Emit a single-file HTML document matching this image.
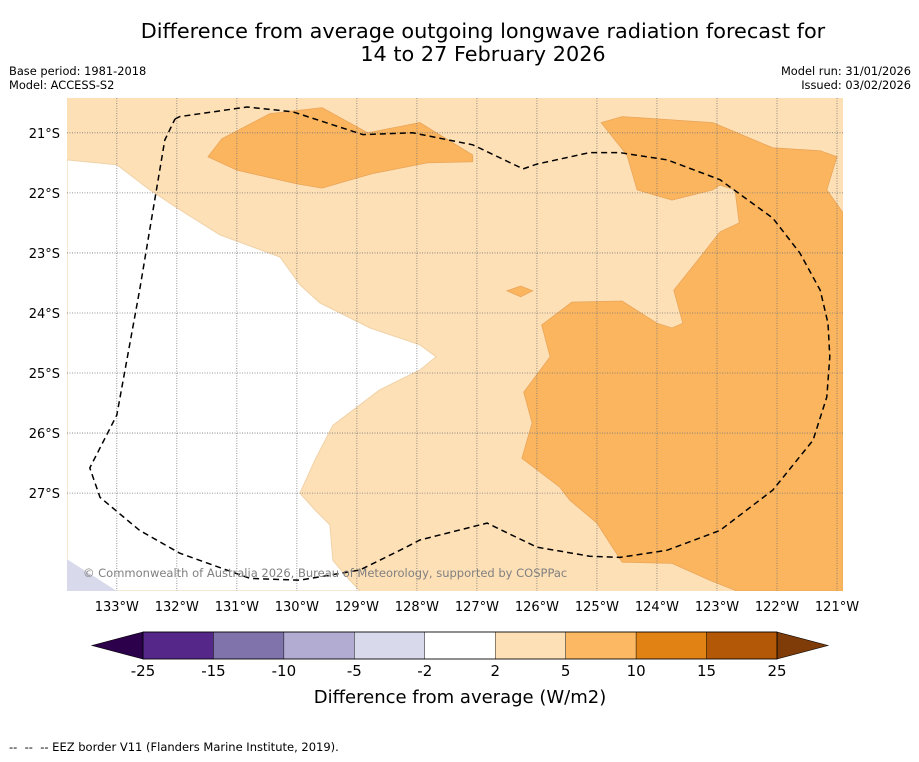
<!DOCTYPE html>
<html><head><meta charset="utf-8">
<style>
html,body{margin:0;padding:0;background:#fff;}
body{width:919px;height:758px;position:relative;font-family:"DejaVu Sans","Liberation Sans",sans-serif;overflow:hidden;}
</style></head>
<body>
<svg id="chart" width="919" height="758" xmlns="http://www.w3.org/2000/svg" font-family="DejaVu Sans, Liberation Sans, sans-serif">
<text x="483" y="38" text-anchor="middle" font-size="20.8">Difference from average outgoing longwave radiation forecast for</text>
<text x="483" y="61" text-anchor="middle" font-size="20.8">14 to 27 February 2026</text>
<text x="9" y="75" font-size="11.4">Base period: 1981-2018</text>
<text x="9" y="89" font-size="11.4">Model: ACCESS-S2</text>
<text x="911" y="75" font-size="11.4" text-anchor="end">Model run: 31/01/2026</text>
<text x="911" y="89" font-size="11.4" text-anchor="end">Issued: 03/02/2026</text>
<defs><clipPath id="mapclip"><rect x="67" y="98" width="776" height="493"/></clipPath></defs>
<g id="map" clip-path="url(#mapclip)"></g>
<g id="axes"></g>
<text x="83" y="577" font-size="11.5" fill="#808080">© Commonwealth of Australia 2026, Bureau of Meteorology, supported by COSPPac</text>
<g id="cbar"></g>
<text x="460" y="703" text-anchor="middle" font-size="18">Difference from average (W/m2)</text>
<text x="9" y="751" font-size="11.5" style="white-space:pre" xml:space="preserve">--  --  -- EEZ border V11 (Flanders Marine Institute, 2019).</text>
</svg>
<script>
const lonTicks=[-133,-132,-131,-130,-129,-128,-127,-126,-125,-124,-123,-122,-121];
const latTicks=[-21,-22,-23,-24,-25,-26,-27];
const lonRange=[-133.83,-120.9];
const latRange=[-20.42,-28.63];
const whiteRegion=[[-133.83,-21.45],[-133,-21.53],[-132.45,-21.95],[-131.95,-22.28],[-131.28,-22.7],[-130.28,-23.07],[-129.95,-23.53],[-129.62,-23.83],[-128.78,-24.25],[-127.95,-24.53],[-127.68,-24.73],[-127.95,-24.95],[-128.62,-25.28],[-129.4,-25.87],[-129.7,-26.45],[-129.95,-27.0],[-129.7,-27.28],[-129.45,-27.53],[-129.4,-28.12],[-129.12,-28.45],[-128.95,-28.63],[-133.83,-28.63]];
const lavenderRegion=[[-133.83,-28.1],[-133,-28.63],[-133.83,-28.63]];
const orangeNorth=[[-131.48,-21.4],[-131.25,-21.1],[-130.45,-20.68],[-129.58,-20.58],[-128.82,-21.0],[-127.95,-20.83],[-127.07,-21.37],[-127.07,-21.48],[-127.83,-21.5],[-128.75,-21.68],[-129.58,-21.92],[-130.0,-21.85],[-131.0,-21.62]];
const orangeEast=[[-124.93,-20.83],[-124.58,-20.73],[-123.07,-20.83],[-122.07,-21.25],[-121.28,-21.3],[-121.0,-21.4],[-121.17,-21.95],[-120.9,-22.33],[-120.9,-28.63],[-122.67,-28.63],[-123.12,-28.45],[-123.75,-28.17],[-124.58,-28.15],[-125.0,-27.5],[-125.45,-27.12],[-125.62,-26.9],[-126.25,-26.42],[-126.08,-25.83],[-126.22,-25.32],[-125.78,-24.73],[-125.92,-24.2],[-125.42,-23.82],[-124.58,-23.8],[-124.0,-24.17],[-123.75,-24.25],[-123.57,-24.17],[-123.72,-23.62],[-123.32,-23.12],[-122.95,-22.65],[-122.63,-22.5],[-122.7,-21.95],[-122.95,-21.87],[-123.07,-21.95],[-123.75,-22.12],[-124.33,-21.95],[-124.5,-21.37]];
const orangeDiamond=[[-126.5,-23.63],[-126.27,-23.55],[-126.07,-23.63],[-126.27,-23.73]];
const eezBorder=[[-132.03,-20.77],[-131.95,-20.73],[-130.83,-20.57],[-130.07,-20.65],[-128.9,-21.03],[-128.07,-21.0],[-127.07,-21.2],[-126.23,-21.6],[-126.0,-21.52],[-125.12,-21.33],[-124.62,-21.33],[-123.83,-21.45],[-122.95,-21.78],[-122.07,-22.42],[-121.62,-23.0],[-121.28,-23.62],[-121.15,-24.17],[-121.12,-24.73],[-121.17,-25.4],[-121.4,-26.12],[-122.07,-26.95],[-122.95,-27.62],[-123.83,-27.95],[-124.62,-28.07],[-125.12,-28.05],[-126.0,-27.9],[-126.83,-27.5],[-127.95,-27.78],[-128.28,-27.95],[-128.95,-28.28],[-129.95,-28.45],[-130.78,-28.42],[-131.95,-28.0],[-132.62,-27.62],[-133.28,-27.07],[-133.45,-26.58],[-133.0,-25.7],[-132.62,-23.62],[-132.2,-21.12],[-132.03,-20.77]];
const cbarLevels=["-25","-15","-10","-5","-2","2","5","10","15","25"];
const cbarColors=["#542788","#8073ac","#b2abd2","#d8daeb","#ffffff","#fee0b6","#fdb863","#e08214","#b35806"];
const cbarExtend=["#2d004b","#7f3b08"];

const NS="http://www.w3.org/2000/svg";
const X0=67,X1=843,Y0=98,Y1=591;
function xs(lon){return X0+(lon-lonRange[0])/(lonRange[1]-lonRange[0])*(X1-X0);}
function ys(lat){return Y0+(lat-latRange[0])/(latRange[1]-latRange[0])*(Y1-Y0);}
function mk(tag,attrs,parent){const e=document.createElementNS(NS,tag);for(const k in attrs)e.setAttribute(k,attrs[k]);parent.appendChild(e);return e;}
function pts(arr){return arr.map(p=>xs(p[0]).toFixed(1)+","+ys(p[1]).toFixed(1)).join(" ");}
const map=document.getElementById('map');
const bg=mk('rect',{x:X0,y:Y0,width:X1-X0,height:Y1-Y0,fill:'#fee0b6'},map);


const w=mk('polygon',{points:pts(whiteRegion),fill:'#ffffff',stroke:'#f0d2a8','stroke-width':1},map);


const lv=mk('polygon',{points:pts(lavenderRegion),fill:'#d8daeb'},map);


[[orangeNorth,'anomaly-5-10-north'],[orangeEast,'anomaly-5-10-east'],[orangeDiamond,'anomaly-5-10-small']].forEach(([a,n])=>{
  const p=mk('polygon',{points:pts(a),fill:'#fbb55f',stroke:'#eaa65a','stroke-width':0.8},map);
  
  
});
lonTicks.forEach(l=>{
  const g=mk('line',{x1:xs(l),x2:xs(l),y1:Y0,y2:Y1,stroke:'#777','stroke-width':0.8,'stroke-dasharray':'1,1.5'},map);
  
  
});
latTicks.forEach(l=>{
  const g=mk('line',{x1:X0,x2:X1,y1:ys(l),y2:ys(l),stroke:'#777','stroke-width':0.8,'stroke-dasharray':'1,1.5'},map);
  
  
});
const eez=mk('polyline',{points:pts(eezBorder),fill:'none',stroke:'#000','stroke-width':1.5,'stroke-dasharray':'6,4'},map);


const axes=document.getElementById('axes');
lonTicks.forEach(l=>{
  const t=mk('text',{x:xs(l),y:611,'text-anchor':'middle','font-size':13},axes);
  t.textContent=Math.abs(l)+'°W';
  
  
});
latTicks.forEach(l=>{
  const t=mk('text',{x:60,y:ys(l)+5,'text-anchor':'end','font-size':13},axes);
  t.textContent=Math.abs(l)+'°S';
  
  
});
const cb=document.getElementById('cbar');
const CB0=143,CB1=777,CBY=632,CBH=27;
const segW=(CB1-CB0)/cbarColors.length;
const lt=mk('polygon',{points:`${CB0},${CBY} ${92},${CBY+CBH/2} ${CB0},${CBY+CBH}`,fill:cbarExtend[0],stroke:'#000','stroke-width':0.6},cb);


const rt=mk('polygon',{points:`${CB1},${CBY} ${828},${CBY+CBH/2} ${CB1},${CBY+CBH}`,fill:cbarExtend[1],stroke:'#000','stroke-width':0.6},cb);


cbarColors.forEach((c,i)=>{
  const r=mk('rect',{x:CB0+i*segW,y:CBY,width:segW,height:CBH,fill:c,stroke:'#000','stroke-width':0.4},cb);
  
  
});
mk('rect',{x:CB0,y:CBY,width:CB1-CB0,height:CBH,fill:'none',stroke:'#000','stroke-width':0.8},cb);
cbarLevels.forEach((v,i)=>{
  const t=mk('text',{x:CB0+i*segW,y:676,'text-anchor':'middle','font-size':15},cb);
  t.textContent=v;
  
  
});
</script>
</body></html>
